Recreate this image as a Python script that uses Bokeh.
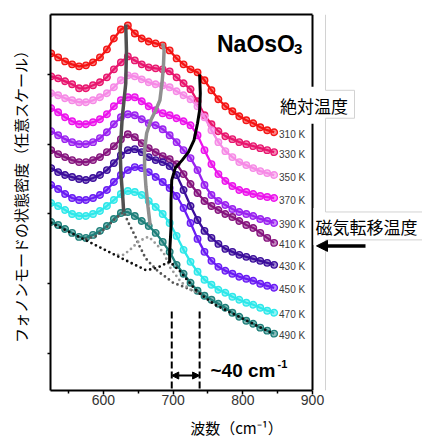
import numpy as np
from bokeh.plotting import figure
from bokeh.models import (Range1d, FixedTicker, Label, Arrow, NormalHead, ColumnDataSource,
                          LinearAxis, Span, CustomJSTickFormatter)
from bokeh.core.properties import value
from bokeh.embed import file_html
from bokeh.resources import INLINE

# ---------------- data ----------------
wavenumber = [525, 535, 545, 555, 565, 575, 585, 595, 605, 615, 625, 635, 645, 655, 665, 675, 685,
              695, 705, 715, 725, 735, 745, 755, 765, 775, 785, 795, 805, 815, 825, 835, 845]

temps = [310, 330, 350, 370, 390, 410, 430, 450, 470, 490]
colors = ["#f41414", "#e8166e", "#f68ae6", "#ec14ec", "#9a22f0",
          "#86147e", "#3c0e9c", "#6a1cf4", "#2ee8ea", "#1f807b"]

i310 = [371, 367, 363, 360, 358, 359, 362, 367, 375, 386, 395, 399, 391, 386, 383, 381, 379,
        374, 366, 360, 355, 352, 344, 334, 325, 318, 313, 308, 304, 301, 297, 294, 292]
i330 = [348, 346, 343, 340, 336, 336, 339, 342, 347, 355, 362, 368, 364, 360, 357, 356, 355,
        353, 347, 341, 335, 323, 309, 300, 293, 288, 285, 282, 280, 278, 276, 274, 272]
i350 = [331, 329, 326, 324, 322, 322, 324, 327, 331, 337, 344, 349, 348, 345, 342, 340, 339,
        337, 333, 329, 325, 318, 307, 294, 282, 273, 267, 262, 259, 256, 253, 251, 249]
i370 = [316, 312, 307, 303, 300, 300, 302, 305, 310, 318, 324, 327, 327, 323, 318, 314, 311,
        309, 306, 303, 299, 289, 274, 260, 250, 243, 238, 234, 232, 230, 228, 227, 226]
i390 = [293, 289, 285, 282, 280, 280, 282, 286, 292, 300, 307, 310, 309, 305, 301, 299, 295,
        289, 282, 274, 266, 254, 239, 229, 223, 219, 215, 212, 210, 208, 205, 203, 201]
i410 = [274, 270, 267, 264, 262, 262, 264, 267, 272, 278, 285, 290, 287, 281, 276, 272, 268,
        265, 260, 250, 240, 231, 223, 218, 214, 210, 207, 203, 199, 196, 191, 186, 181]
i430 = [256, 252, 249, 247, 245, 244, 246, 249, 254, 261, 269, 274, 275, 272, 267, 264, 262,
        258, 249, 234, 218, 204, 193, 186, 180, 175, 172, 169, 167, 165, 163, 161, 159]
i450 = [239, 235, 230, 226, 224, 224, 226, 229, 234, 242, 249, 254, 257, 256, 252, 247, 242,
        236, 228, 216, 201, 185, 172, 163, 157, 153, 150, 147, 145, 143, 140, 138, 136]
i470 = [221, 218, 214, 210, 208, 208, 210, 213, 218, 224, 230, 233, 232, 229, 223, 217, 210,
        201, 188, 174, 162, 152, 144, 139, 134, 131, 127, 124, 121, 119, 116, 113, 111]
i490 = [202, 199, 195, 191, 187, 186, 189, 193, 198, 205, 211, 212, 208, 203, 198, 191, 182,
        172, 159, 150, 141, 133, 128, 124, 120, 116, 111, 107, 103, 100, 96, 93, 90]
spectra = [i310, i330, i350, i370, i390, i410, i430, i450, i470, i490]

# 490 K decomposition (background + single modes)
bg_x = [525, 545, 565, 585, 605, 625, 645, 660, 670, 680, 690, 695, 700, 710, 720, 730, 740,
        760, 780, 800, 820, 845]
bg_y = [201, 194, 187, 180, 173, 166, 159, 154, 154.5, 157, 160.5, 162, 159, 152.5, 144, 135.5,
        129, 119, 112, 105, 98, 89.5]
c630_x = [575, 590, 605, 615, 629, 636, 641, 646, 650, 656, 660, 665, 679, 689, 700, 715, 725, 740]
c630_y = [185, 188, 197, 204, 212, 201, 194, 187, 180, 172, 166, 162, 152, 147, 141, 137, 134, 130]
c666_x = [621, 629, 638, 650, 660, 665, 677, 687, 696, 711, 725, 740]
c666_y = [169, 169, 174, 182, 186, 187, 179, 170, 156, 142, 134, 130]

# mode guide lines (peak positions through the temperatures)
g630_x = [632, 633, 632, 627, 624, 625, 628, 629]
g630_y = [400, 374, 341, 307, 274, 251, 224, 212]
g680_x = [685, 687, 686, 684, 681, 675, 668, 662, 659, 659, 661, 664, 667]
g680_y = [381, 374, 357, 341, 324, 314, 304, 291, 274, 257, 237, 217, 199]
g740_x = [738, 739, 738, 735, 730, 722, 713, 703, 698, 697, 697, 695, 695]
g740_y = [350, 331, 314, 301, 284, 272, 264, 256, 244, 224, 197, 171, 161]

shift_lo, shift_hi = 698, 738
x_ticks = [600, 700, 800, 900]
x_minor = [550, 650, 750, 850]
y_ticks = [70, 140, 210, 280, 350]

# ---------------- figure ----------------
W, H = 422, 440
FL, FT, FB = 50, 14, 391           # frame left / top / bottom (px)
X0, XMAX = 524, 900                 # axis extent
PX = (XMAX - X0) / 262.0            # data units per pixel
X1 = X0 + (W - FL) * PX             # frame extends to the right edge (room for side labels)
Y0, Y1 = 33, 410

p = figure(width=W, height=H, x_range=Range1d(X0, X1), y_range=Range1d(Y0, Y1),
           output_backend="svg", toolbar_location=None,
           min_border_left=FL, min_border_right=0, min_border_top=FT, min_border_bottom=H - FB)
p.background_fill_color = "white"
p.border_fill_color = "white"
p.outline_line_color = None
p.xgrid.visible = False
p.ygrid.visible = False

def wx(px):
    return X0 + (px - FL) * PX

def wy(py):
    return Y1 - (py - FT)

xa = p.xaxis[0]
xa.bounds = (X0, XMAX)
xa.ticker = FixedTicker(ticks=x_ticks, minor_ticks=x_minor)
xa.axis_line_width = 2
xa.major_tick_in = 0
xa.major_tick_out = 4
xa.minor_tick_in = 0
xa.minor_tick_out = 3
xa.major_tick_line_width = 1.5
xa.minor_tick_line_width = 1.5
xa.major_label_standoff = 0
xa.major_label_text_font = "Liberation Sans"
xa.major_label_text_font_size = "14px"
xa.major_label_text_color = "#333333"
xa.axis_label = "波数（cm⁻¹）"
xa.axis_label_text_font = "Noto Sans CJK JP"
xa.axis_label_text_font_size = "15px"
xa.axis_label_text_font_style = "normal"
xa.axis_label_text_color = "black"
xa.axis_label_standoff = 9

ya = p.yaxis[0]
ya.ticker = FixedTicker(ticks=y_ticks, minor_ticks=[])
ya.formatter = CustomJSTickFormatter(code="return ''")
ya.axis_line_width = 2
ya.major_tick_in = 0
ya.major_tick_out = 3
ya.major_tick_line_width = 1.5
ya.major_label_standoff = 0
ya.axis_label = "\u3000\u2005フォノンモードの状態密度（任意スケール）"
ya.axis_label_text_font = "Noto Sans CJK JP"
ya.axis_label_text_font_size = "15px"
ya.axis_label_text_font_style = "normal"
ya.axis_label_text_color = "black"
ya.axis_label_standoff = 17

top_axis = LinearAxis(bounds=(X0, XMAX), ticker=FixedTicker(ticks=[], minor_ticks=[]),
                      axis_line_width=2, major_tick_out=0, major_tick_in=0,
                      minor_tick_out=0, minor_tick_in=0,
                      formatter=CustomJSTickFormatter(code="return ''"))
p.add_layout(top_axis, "above")
p.add_layout(Span(location=XMAX, dimension="height", line_color="black", line_width=2))

# spectra
for t, c, s in zip(temps, colors, spectra):
    p.line(wavenumber, s, line_color=c, line_width=2.3)
    p.scatter(wavenumber, s, marker="circle", size=6.5, fill_color=c, fill_alpha=0.5,
              line_color=c, line_width=1.4)

# 490 K components (dotted)
p.line(c630_x, c630_y, line_color="#555555", line_width=2.8, line_dash="0 5", line_cap="round")
p.line(c666_x, c666_y, line_color="#9a9a9a", line_width=2.8, line_dash="0 5", line_cap="round")
p.line(bg_x, bg_y, line_color="#111111", line_width=2.8, line_dash="0 5", line_cap="round")

# guide lines
p.line(g630_x, g630_y, line_color="#505050", line_width=3.5)
p.line(g680_x, g680_y, line_color="#909090", line_width=3.5)
p.line(g740_x, g740_y, line_color="#000000", line_width=3)

# dashed shift markers and double arrow
for xv in (shift_lo, shift_hi):
    p.line([xv, xv], [wy(389), wy(311)], line_color="black", line_width=2, line_dash="7 3")
p.add_layout(Arrow(start=NormalHead(size=7, fill_color="black", line_color="black"),
                   end=NormalHead(size=7, fill_color="black", line_color="black"),
                   x_start=shift_lo, y_start=wy(376), x_end=shift_hi, y_end=wy(376),
                   line_color="black", line_width=2))

p.add_layout(Label(x=wx(210), y=wy(371), text="~40 cm", text_font="Liberation Sans",
                   text_font_style="bold", text_font_size="19px", text_color="black",
                   text_align="left", text_baseline="middle"))
p.add_layout(Label(x=wx(277), y=wy(364), text="-1", text_font="Liberation Sans",
                   text_font_style="bold", text_font_size="11px", text_color="black",
                   text_align="left", text_baseline="middle"))

# compound label
p.add_layout(Label(x=wx(216.5), y=wy(43.3), text="NaOsO", text_font="Liberation Sans",
                   text_font_style="bold", text_font_size="23px", text_color="black",
                   text_align="left", text_baseline="alphabetic"))
p.add_layout(Label(x=wx(293.5), y=wy(49), text="3", text_font="Liberation Sans",
                   text_font_style="bold", text_font_size="15px", text_color="black",
                   text_align="left", text_baseline="alphabetic"))

# temperature labels at curve ends
src = ColumnDataSource(dict(x=[wavenumber[-1] + 7] * len(temps),
                            y=[s[-1] for s in spectra],
                            t=[f"{t} K" for t in temps]))
p.text(x="x", y="y", text="t", source=src, text_font=value("Liberation Sans"),
       text_font_size="10px", text_color="#3a3a3a", text_align="left",
       text_baseline="middle", y_offset=2)

# outer image frame (light gray) and label boxes
gray = "#d2d2d2"
def seg(x0, y0, x1, y1, color=gray, w=1):
    p.add_layout(Arrow(start=None, end=None, x_start=wx(x0), y_start=wy(y0),
                       x_end=wx(x1), y_end=wy(y1), line_color=color, line_width=w))

p.add_layout(Label(x=wx(277.5), y=wy(105), text="絶対温度", text_font="Noto Sans CJK JP",
                   text_font_size="17px", text_color="black", text_align="left",
                   text_baseline="middle", background_fill_color="white",
                   padding=dict(top=6, right=7, bottom=6, left=2)))
p.add_layout(Label(x=wx(313), y=wy(226.5), text="磁気転移温度", text_font="Noto Sans CJK JP",
                   text_font_size="17px", text_color="black", text_align="left",
                   text_baseline="middle", background_fill_color="white",
                   padding=dict(top=6, right=8, bottom=6, left=2)))

seg(325, 14, 325, 90)
seg(325, 118, 325, 212)
seg(325, 240, 325, 391)
seg(325, 90, 354, 90)
seg(354, 90, 354, 118)
seg(325, 118, 354, 118)
seg(325, 212, 422, 212)
seg(325, 240, 422, 240)

p.add_layout(Arrow(end=NormalHead(size=11, fill_color="black", line_color="black"),
                   x_start=wx(365), y_start=wy(246), x_end=wx(316), y_end=wy(246),
                   line_color="black", line_width=3.5))

open("out.html", "w").write(file_html(p, INLINE))
